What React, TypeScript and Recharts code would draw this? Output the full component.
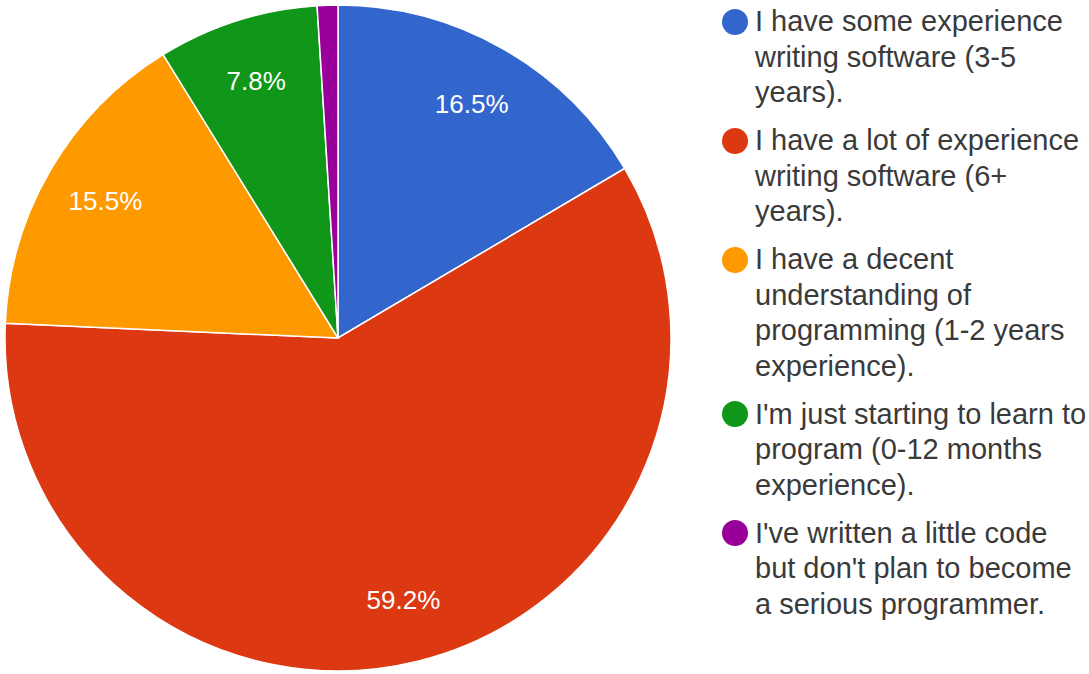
import React from "react";
import { PieChart, Pie, Cell, Legend } from "recharts";

const categories = [
  "I have some experience\nwriting software (3-5\nyears).",
  "I have a lot of experience\nwriting software (6+\nyears).",
  "I have a decent\nunderstanding of\nprogramming (1-2 years\nexperience).",
  "I'm just starting to learn to\nprogram (0-12 months\nexperience).",
  "I've written a little code\nbut don't plan to become\na serious programmer.",
];
const values = [16.5, 59.2, 15.5, 7.8, 1.0];
const colors = ["#3366cc", "#dc3912", "#ff9900", "#109618", "#990099"];

const data = categories.map((name, i) => ({ name, value: values[i] }));

const RAD = Math.PI / 180;
const FONT = "'Liberation Sans', Arial, sans-serif";

const renderLabel = (props: any) => {
  const { cx, cy, midAngle, outerRadius, value } = props;
  if (value < 3) return null;
  const r = outerRadius * 0.81;
  const x = cx + r * Math.cos(-midAngle * RAD);
  const y = cy + r * Math.sin(-midAngle * RAD);
  return (
    <text
      x={x}
      y={y}
      fill="#ffffff"
      textAnchor="middle"
      dominantBaseline="central"
      fontFamily={FONT}
      fontSize={26}
    >
      {value.toFixed(1)}%
    </text>
  );
};

const renderLegend = () => (
  <div style={{ fontFamily: FONT, fontSize: 29, color: "#3a3a3a", lineHeight: "35.5px" }}>
    {categories.map((c, i) => (
      <div key={i} style={{ display: "flex", alignItems: "flex-start", marginBottom: 12.5 }}>
        <div
          style={{
            width: 26,
            height: 26,
            borderRadius: 13,
            background: colors[i],
            marginTop: 4.75,
            marginRight: 7,
            flex: "0 0 auto",
          }}
        />
        <div style={{ whiteSpace: "nowrap" }}>
          {c.split("\n").map((line, j) => (
            <div key={j}>{line}</div>
          ))}
        </div>
      </div>
    ))}
  </div>
);

export default function App() {
  return (
    <div style={{ position: "absolute", left: 0, top: 0, width: 1089, height: 674, background: "#fff" }}>
      <PieChart width={1089} height={674} margin={{ top: 0, right: 0, bottom: 0, left: 0 }}>
        <Pie
          data={data}
          dataKey="value"
          nameKey="name"
          cx={338}
          cy={338}
          outerRadius={333}
          startAngle={90}
          endAngle={-270}
          stroke="#ffffff"
          strokeWidth={1.5}
          label={renderLabel}
          labelLine={false}
          isAnimationActive={false}
        >
          {data.map((_, i) => (
            <Cell key={i} fill={colors[i]} />
          ))}
        </Pie>
        <Legend
          content={renderLegend}
          layout="vertical"
          wrapperStyle={{ position: "absolute", left: 722, top: 4, width: 367 }}
        />
      </PieChart>
    </div>
  );
}
